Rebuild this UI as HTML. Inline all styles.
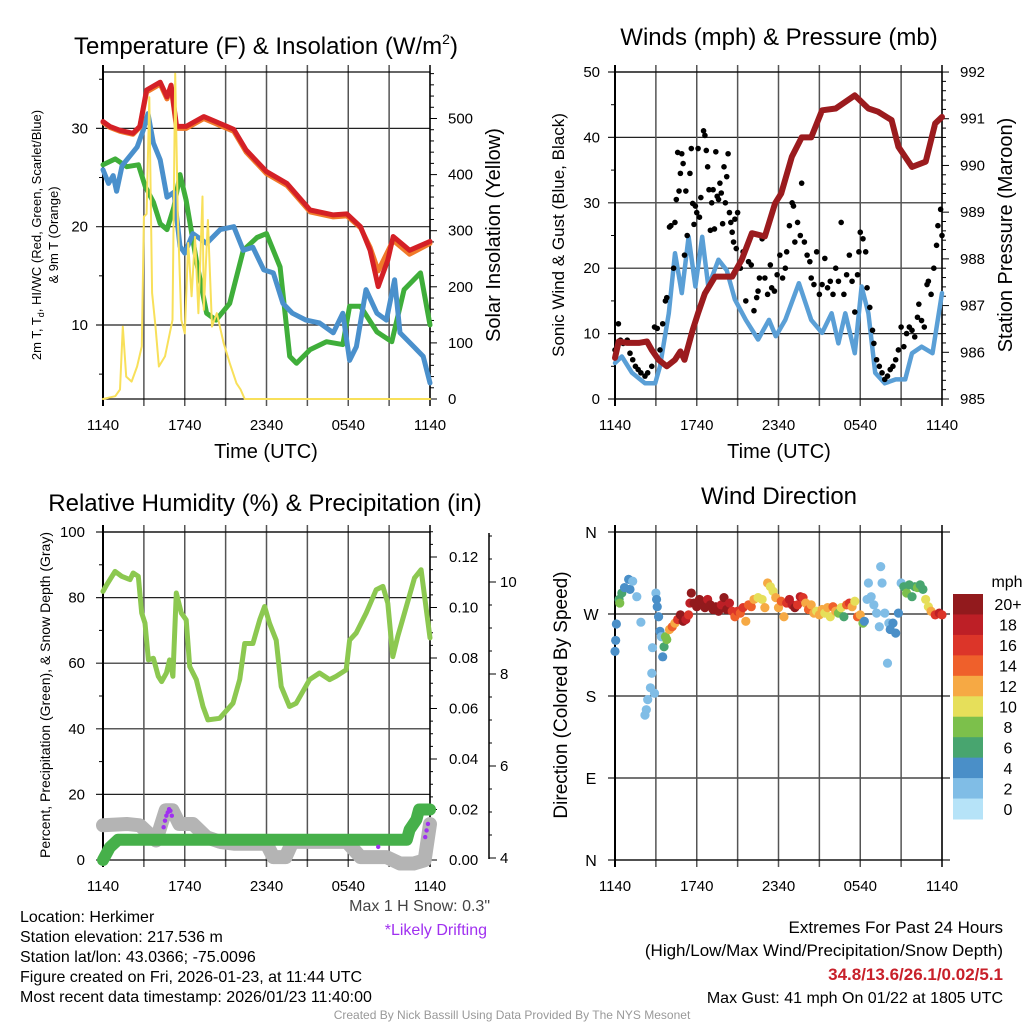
<!DOCTYPE html>
<html><head><meta charset="utf-8">
<style>
html,body{margin:0;padding:0;background:#fff;}
svg{display:block;font-family:"Liberation Sans",Arial,sans-serif;}
</style></head>
<body>
<svg id="chart" width="1024" height="1024" viewBox="0 0 1024 1024" xmlns="http://www.w3.org/2000/svg">
<rect width="1024" height="1024" fill="#fff"/>
<g id="g1"></g>
<g id="g2"></g>
<g id="g3"></g>
<g id="g4"></g>
<g id="g5">
<text x="20" y="922" font-size="16">Location: Herkimer</text>
<text x="20" y="942" font-size="16">Station elevation: 217.536 m</text>
<text x="20" y="962" font-size="16">Station lat/lon: 43.0366; -75.0096</text>
<text x="20" y="982" font-size="16">Figure created on Fri, 2026-01-23, at 11:44 UTC</text>
<text x="20" y="1002" font-size="16">Most recent data timestamp: 2026/01/23 11:40:00</text>
<text x="490" y="911" font-size="16" fill="#444" text-anchor="end">Max 1 H Snow: 0.3"</text>
<text x="487" y="935" font-size="16" fill="#a030f0" text-anchor="end">*Likely Drifting</text>
<text x="1003" y="933" font-size="17" text-anchor="end">Extremes For Past 24 Hours</text>
<text x="1003" y="956" font-size="17" text-anchor="end">(High/Low/Max Wind/Precipitation/Snow Depth)</text>
<text x="1003" y="980" font-size="17" font-weight="bold" fill="#c8202a" text-anchor="end">34.8/13.6/26.1/0.02/5.1</text>
<text x="1003" y="1003" font-size="16" text-anchor="end">Max Gust: 41 mph On 01/22 at 1805 UTC</text>
<text x="512" y="1019" font-size="12" fill="#999" text-anchor="middle">Created By Nick Bassill Using Data Provided By The NYS Mesonet</text>
</g>
</svg>
<script>
// ---------- data ----------
const xTickLabels = ["1140","1740","2340","0540","1140"];
// Panel 1: temperature (F) vs hours since 1140 UTC
const redT = [0,0.5,1.25,2.2,2.7,3.2,4.2,4.7,5.0,5.4,6.1,7.4,9.1,9.6,10.5,12,13.5,15.2,16.9,17.9,18.9,19.6,20.2,20.9,21.3,22.5,24];
const redV = [30.7,30.2,29.8,29.5,30.2,33.9,34.7,33.2,34.4,30.2,30.2,31.2,30.2,29.9,27.8,25.6,24.4,21.7,21.2,21.3,20,17.6,13.9,16.6,19,17.6,18.5];
const orangeV = [30.6,30.1,29.7,29.4,30.1,33.7,34.5,33.0,34.2,30.0,30.0,31.0,30.0,29.7,27.6,25.4,24.2,21.5,21.0,21.1,19.9,17.9,15.5,17.5,18.6,17.2,18.3];
const greenT = [0,0.9,1.75,2.6,3.1,3.7,4.2,4.7,5.2,5.65,6.1,6.85,7.6,8.3,9.3,10.3,11.3,12,13,13.7,14.2,15.2,16.4,17.6,18.1,18.9,20.1,21.2,22.1,23.3,24];
const greenV = [26.3,26.9,26.1,26.3,24.1,22.5,20.3,19.7,22,25.3,22.7,16.6,11.2,10.5,12.2,17.6,18.9,19.3,15.9,6.8,6.1,7.5,8.3,8,11.9,11.9,9.3,8.3,13.6,15.3,10];
const blueT = [0,0.4,0.75,1.0,1.4,1.75,2.5,2.95,3.3,3.7,4.2,4.7,5.2,5.65,6.0,6.6,7.6,8.6,9.6,10.3,11.0,11.8,12.5,13.2,13.9,14.9,15.9,16.9,17.6,18.1,18.6,19.3,20.1,20.8,21.4,21.8,22.8,23.5,24];
const blueV = [25.8,24.4,25.2,23.6,26.2,26.8,28.1,29.8,31.5,28.5,26.8,23,23.5,18,17.3,19.3,18.3,19.7,20,17.6,17.9,15.6,15.3,12.2,11.2,10.5,10.2,9.2,11.2,6.4,7.8,13.6,11.2,10.5,14.6,9.2,7.8,6.8,4.1];
const solarT = [0,0.9,1.25,1.45,1.7,2.1,2.5,2.85,3.0,3.2,3.4,3.6,3.85,4.1,4.55,5.1,5.3,5.5,5.75,6.0,6.25,6.5,6.75,7.0,7.3,7.4,7.7,8.0,8.35,8.85,9.3,9.8,10.1,10.4,24];
const solarV = [0,5,17,129,40,31,58,94,325,330,538,189,129,58,76,141,580,319,141,117,278,183,289,153,361,159,319,129,153,100,64,28,17,0,0];
// Panel 2: winds (mph) & pressure (mb)
const pressT = [0,0.27,0.9,1.75,2.35,2.7,3.2,3.8,4.4,4.8,5.1,5.7,6.1,6.6,7.35,8.6,9.3,10.05,11.0,11.75,12.2,12.98,13.7,14.4,15.2,16.2,17.6,18.6,19.3,20.3,20.8,21.8,22.8,23.5,24];
const pressV = [985.88,986.23,986.2,986.2,986.23,986.05,985.84,985.7,985.84,986.02,985.84,986.48,986.84,987.26,987.62,987.62,987.98,988.55,988.48,989.19,989.4,990.19,990.6,990.6,991.18,991.22,991.5,991.22,991.15,990.97,990.4,989.97,990.08,990.9,991.04];
const windT = [0,0.5,1.25,2.2,2.95,3.3,3.95,4.4,4.9,5.4,5.9,6.4,6.85,7.6,8.2,8.8,9.6,10.5,11.3,11.8,12.5,13.5,14.4,15.2,15.9,16.4,16.9,17.6,18.1,18.6,19.1,19.8,20.6,21.3,21.8,22.5,23.3,24];
const windV = [5.5,6.5,4,2.4,2.4,5,13.1,22.3,16.2,24.8,17.2,24.8,17.2,21.3,19.7,15.2,12.1,9.1,12.1,9.6,12.1,17.7,12.1,10.1,13.1,8.5,13.1,7,17.2,13.1,4,2.4,3,3,7,8,7,16.2];
const gustT = [0,0.25,0.4,0.6,0.9,1.1,1.3,1.5,1.7,1.9,2.2,2.4,2.7,2.9,3.1,3.3,3.5,3.7,3.8,4,4.1,4.3,4.4,4.5,4.6,4.7,4.8,4.9,5,5.1,5.2,5.3,5.5,5.6,5.7,5.8,5.9,6,6.1,6.2,6.3,6.5,6.6,6.7,6.8,6.9,7,7.1,7.2,7.3,7.4,7.5,7.6,7.7,7.8,7.9,8,8.1,8.2,8.3,8.4,8.5,8.6,8.7,8.8,8.9,9,9.2,9.4,9.6,9.8,10,10.2,10.4,10.5,10.6,10.8,11,11.2,11.4,11.5,11.7,11.9,12.1,12.3,12.5,12.6,12.8,12.9,13,13.1,13.2,13.4,13.6,13.7,13.9,14.1,14.3,14.4,14.6,14.8,15,15.2,15.4,15.6,15.8,16,16.2,16.4,16.6,16.8,17,17.2,17.4,17.6,17.8,17.9,18,18.2,18.4,18.5,18.7,18.9,19,19.2,19.4,19.6,19.8,20,20.2,20.4,20.6,20.8,21,21.2,21.4,21.6,21.8,22,22.2,22.3,22.5,22.7,22.9,23,23.2,23.4,23.6,23.7,23.9,24];
const gustV = [7.5,11.5,9,8.5,9,7,6,5,4.5,4,3.5,4,5,11,10.8,7.5,11.5,15,15.5,26.3,26.5,20,27,30.5,37.7,31.8,34.5,37.5,36,22,31.8,25,34.5,38.3,29.9,26.7,29.5,28.5,38.3,27.8,30.8,41,40.3,38,35.5,32,25.8,30,32,26,37.8,31,30.5,33,31.5,26.8,35.5,30,34,37.5,28.5,27,25.5,24,27.5,23,28.5,20,22.5,15,21,20.5,13.5,15.5,16.5,18.5,24.5,18.5,16,20.5,17,16.5,19,22,18.5,20,22.5,26.5,36.5,30,29.5,24,27,25,33,24,22,21,18.5,17.5,22.5,16,17.5,21.5,17,18,16,20,18,27,16,19,22,18,13.3,19,22.5,25.5,24.5,22.5,17,14,10.5,8.5,6,5,4,3,3.5,4.5,5,6,7.5,11,8,10,11,10.5,9.5,12.5,14.5,12,11,17.5,18,16,20,23.5,26.5,29,25];
// Panel 3: RH (%), precip (in), snow depth (in)
const rhT = [0,0.27,0.88,1.37,1.98,2.22,2.59,2.84,3.08,3.33,3.7,4.06,4.3,4.65,4.89,5.13,5.38,5.75,6.11,6.36,6.85,7.34,7.7,8.56,9.54,10.03,10.4,11.0,11.5,11.86,12.22,12.71,13.08,13.69,14.18,15.16,15.89,16.63,17.11,17.85,18.1,18.58,19.32,20.05,20.54,20.9,21.27,21.64,22.13,22.86,23.35,24];
const rhV = [81.9,83.9,88,86.5,85.5,87.5,86.5,75.3,72.2,61,61.5,56,54.4,57,61,56,81.4,75.3,73.2,59,55,46.8,42.7,43.2,47.8,55,66,66,73.2,77.3,72.2,67,52.9,46.8,47.8,55,57,55,56,58,67,69.2,75.3,82.4,83.4,78.3,62,68.2,75.3,86,88.5,67.7];
const snowT = [0,1.75,2.7,3.9,4.6,5.1,5.6,6.6,7.6,8.6,9.6,12.0,12.5,13.4,13.9,17.9,18.9,20.8,21.8,22.8,23.6,24];
const snowV = [4.71,4.74,4.71,4.38,5.04,5.04,4.74,4.74,4.45,4.35,4.31,4.31,4.02,4.02,4.35,4.35,4.02,4.02,3.88,3.88,3.95,4.74];
const precipT = [0,0.3,0.5,1.1,22.3,22.5,23.0,23.2,24];
const precipV = [0,0.003,0.005,0.008,0.008,0.012,0.016,0.02,0.02];
const driftT = [4.45,4.55,4.65,4.75,4.85,4.95,5.05,20.2,23.65,23.75,23.85];
const driftV = [10,12,13.5,14.5,15.5,15,13.5,4,7,9,11];
// Panel 4: wind direction (deg) & speed (mph)
const dirT = [0,0.05,0.1,0.3,0.35,0.5,0.7,1,1.1,1.3,1.6,1.9,2.2,2.3,2.4,2.6,2.7,2.75,2.9,3,3.05,3.1,3.2,3.3,3.4,3.5,3.6,3.7,3.8,4,4.2,4.4,4.6,4.8,5,5.2,5.4,5.5,5.6,5.8,6,6.2,6.4,6.6,6.8,7,7.2,7.4,7.6,7.8,8,8.2,8.4,8.6,8.8,9,9.2,9.4,9.6,9.8,10,10.2,10.5,10.8,11,11.2,11.4,11.6,11.8,12,12.2,12.4,12.6,12.8,13,13.2,13.4,13.6,13.8,14,14.2,14.4,14.6,14.8,15,15.2,15.4,15.6,15.8,16,16.2,16.4,16.6,16.8,17,17.2,17.4,17.6,17.8,18,18.2,18.3,18.5,18.6,18.8,19,19.2,19.4,19.5,19.6,19.8,20,20.1,20.2,20.4,20.6,20.8,21,21.2,21.4,21.6,21.8,22,22.2,22.4,22.6,22.8,23,23.2,23.5,23.8,24];
const dirV = [229,241,259,286,282,293,299,308,297,306,289,261,159,165,176,189,205,233,183,293,286,278,267,251,245,223,234,245,242,253,256,260,264,269,262,264,269,282,293,282,278,286,282,277,286,280,275,278,273,280,288,275,282,273,267,273,271,277,262,280,278,286,288,286,277,304,300,295,288,277,284,267,282,286,280,277,280,289,288,282,275,280,271,273,269,275,271,277,267,278,273,271,277,267,280,282,278,284,267,269,260,262,286,304,289,280,271,256,322,304,271,216,260,253,260,249,271,304,300,293,302,289,300,299,302,297,286,278,273,269,271,269];
const spdV = [4,4,4,6,8,6,4,4,4,3,2,2,2,2,2,2,2,2,2,3,4,4,4,4,3,4,6,8,8,13,14,12,16,20,20,18,16,18,20,20,20,20,20,20,18,20,20,20,20,18,20,20,18,16,14,16,14,16,12,14,14,12,10,10,12,12,10,10,12,12,14,12,16,18,18,20,16,18,16,12,14,12,12,10,12,12,10,12,10,14,12,8,10,6,14,16,12,10,14,13,8,4,2,2,2,2,2,2,2,2,2,2,2,4,4,4,4,2,6,8,6,6,6,8,6,6,10,10,12,16,18,16];
const cbLabels = ["20+","18","16","14","12","10","8","6","4","2","0"];
const cbColors = ["#921a1d","#bd1f26","#dc3529","#ef602b","#f6a944","#e6df5a","#7cc04b","#48a56f","#4a8fc8","#80bde6","#b6e3f8"];

// ---------- helpers ----------
const NS="http://www.w3.org/2000/svg";
function mk(parent, tag, attrs, txt){
  const e=document.createElementNS(NS,tag);
  for(const k in attrs) e.setAttribute(k,attrs[k]);
  if(txt!==undefined) e.textContent=txt;
  parent.appendChild(e); return e;
}
function pathD(ts,vs,fx,fy){return ts.map((t,i)=>(i?"L":"M")+fx(t).toFixed(1)+","+fy(vs[i]).toFixed(1)).join("");}

function frame(g,X0,X1,Y0,Y1,name){
  const xs=h=>X0+h*(X1-X0)/24;
  for(let i=0;i<=8;i++){
    const x=xs(i*3);
    const l=mk(g,"line",{x1:x,y1:Y0-7,x2:x,y2:Y1+7,stroke:i==0||i==8?"#000":"#555","stroke-width":i==0?2:1.5});
    
    
  }
  xTickLabels.forEach((s,i)=>{
    const t=mk(g,"text",{x:xs(i*6),y:Y1+31,"font-size":15,"text-anchor":"middle"},s);
    
    
  });
  const r=mk(g,"rect",{x:X0,y:Y0,width:X1-X0,height:Y1-Y0,fill:"none",stroke:"#000","stroke-width":1.2});
  
  
  return xs;
}
function hgrid(g,X0,X1,y,lab,lx){
  const l=mk(g,"line",{x1:X0-7,y1:y,x2:X1,y2:y,stroke:"#222","stroke-width":1.2});
  
  
  if(lab!==null){
    const t=mk(g,"text",{x:lx,y:y+5,"font-size":15,"text-anchor":"end"},lab);
    
    
  }
}
function rtick(g,x,y,len,lab,lx){
  const l=mk(g,"line",{x1:x,y1:y,x2:x+len,y2:y,stroke:"#000","stroke-width":1});
  
  
  if(lab!==null){
    const t=mk(g,"text",{x:lx,y:y+5,"font-size":15},lab);
    
    
  }
}
function title(g,x,y,s,size,name,rot){
  const a={x:x,y:y,"font-size":size,"text-anchor":"middle"};
  if(rot) a.transform="rotate(-90 "+x+" "+y+")";
  const t=mk(g,"text",a,s);
  
  
  return t;
}
function line(g,ts,vs,fx,fy,color,w,name){
  const p=mk(g,"path",{d:pathD(ts,vs,fx,fy),fill:"none",stroke:color,"stroke-width":w,"stroke-linejoin":"round","stroke-linecap":"round"});
  
  
}

// ---------- panel 1 ----------
(function(){
  const g=document.getElementById("g1");
  const X0=103,X1=430,Y0=72,Y1=399;
  const yL=v=>Y1-(v-2.47)*9.83, yR=v=>Y1-v*0.561;
  [10,20,30].forEach(v=>hgrid(g,X0,X1,yL(v),String(v),88));
  [5,15,25,35].forEach(v=>{const l=mk(g,"line",{x1:X0-4,y1:yL(v),x2:X0,y2:yL(v),stroke:"#000"});});
  for(let v=0;v<=580;v+=20) rtick(g,X1,yR(v),v%100==0?7:4,v%100==0?String(v):null,448);
  const xs=frame(g,X0,X1,Y0,Y1,"temperature");
  line(g,greenT,greenV,xs,yL,"#3fae3a",5,"dewpoint-line");
  line(g,blueT,blueV,xs,yL,"#4a90cc",5,"windchill-line");
  line(g,redT,orangeV,xs,yL,"#f07a2a",5,"temp-9m-line");
  line(g,redT,redV,xs,yL,"#d42026",5,"temp-2m-line");
  line(g,solarT,solarV,xs,yR,"#f8e05a",2,"solar-insolation-line");
  const t=title(g,266,54,"Temperature (F) & Insolation (W/m",24,"temperature-title");
  mk(t,"tspan",{dy:-10,"font-size":14},"2"); mk(t,"tspan",{dy:10},")");
  title(g,266,458,"Time (UTC)",20,"x-axis-title");
  title(g,500,235,"Solar Insolation (Yellow)",20,"right-axis-title",true);
  title(g,41,235,"2m T, T",13,"left-axis-title",true);
  const lt=g.lastChild; lt.textContent="";
  mk(lt,"tspan",{},"2m T, T"); mk(lt,"tspan",{dy:3,"font-size":9},"d"); mk(lt,"tspan",{dy:-3},", HI/WC (Red, Green, Scarlet/Blue)");
  title(g,58,235,"& 9m T (Orange)",13,"left-axis-title-line2",true);
})();

// ---------- panel 2 ----------
(function(){
  const g=document.getElementById("g2");
  const X0=615,X1=942,Y0=72,Y1=399;
  const yW=v=>Y1-v*6.54, yP=p=>Y1-(p-985)*46.71;
  [0,10,20,30,40,50].forEach(v=>hgrid(g,X0,X1,yW(v),String(v),600));
  [5,15,25,35,45].forEach(v=>{const l=mk(g,"line",{x1:X0-4,y1:yW(v),x2:X0,y2:yW(v),stroke:"#000"});});
  for(let k=0;k<=35;k++){const p=985+k*0.2;rtick(g,X1,yP(p),k%5==0?7:4,k%5==0?String(985+k/5):null,960);}
  const xs=frame(g,X0,X1,Y0,Y1,"wind");
  line(g,windT,windV,xs,yW,"#5a9fd6",4.5,"sonic-wind-line");
  gustT.forEach((t,i)=>{
    const c=mk(g,"circle",{cx:xs(t),cy:yW(gustV[i]),r:2.8,fill:"#000"});
    
    
  });
  line(g,pressT,pressV,xs,yP,"#9b1b1e",6,"pressure-line");
  title(g,779,45,"Winds (mph) & Pressure (mb)",24,"wind-title");
  title(g,779,458,"Time (UTC)",20,"x-axis-title");
  title(g,1012,235,"Station Pressure (Maroon)",20,"right-axis-title",true);
  title(g,564,235,"Sonic Wind & Gust (Blue, Black)",17,"left-axis-title",true);
})();

// ---------- panel 3 ----------
(function(){
  const g=document.getElementById("g3");
  const X0=103,X1=430,Y0=532,Y1=860;
  const y=v=>Y1-v*3.28, yPr=v=>Y1-v*2525, yS=s=>858-(s-4)*46;
  [20,40,60,80,100].forEach(v=>hgrid(g,X0,X1,y(v),String(v),85));
  hgrid(g,X0,X0,y(0),"0",85);
  [10,30,50,70,90].forEach(v=>{const l=mk(g,"line",{x1:X0-4,y1:y(v),x2:X0,y2:y(v),stroke:"#000"});});
  for(let k=0;k<=26;k++){const v=k*0.005;rtick(g,X1,yPr(v),k%4==0?7:3,k%4==0?v.toFixed(2):null,449);}
  const ax=mk(g,"line",{x1:489,y1:533,x2:489,y2:859,stroke:"#000","stroke-width":1.5});
  
  
  for(let k=0;k<=14;k++){const s=4+k*0.5;if(yS(s)<533)break;rtick(g,489,yS(s),k%4==0?7:3,k%4==0?String(s):null,500);}
  const xs=frame(g,X0,X1,Y0,Y1,"humidity");
  line(g,snowT,snowV,xs,yS,"#b4b4b4",14,"snow-depth-line");
  line(g,precipT,precipV,xs,yPr,"#46b04a",12,"precip-line");
  line(g,rhT,rhV,xs,y,"#8cc850",5,"humidity-line");
  driftT.forEach((t,i)=>{
    const c=mk(g,"circle",{cx:xs(t),cy:y(driftV[i]),r:2.2,fill:"#a030f0"});
    
    
  });
  title(g,265,511,"Relative Humidity (%) & Precipitation (in)",24,"humidity-title");
  title(g,50,695,"Percent, Precipitation (Green), & Snow Depth (Gray)",14,"left-axis-title",true);
})();

// ---------- panel 4 ----------
(function(){
  const g=document.getElementById("g4");
  const X0=615,X1=942,Y0=532,Y1=860;
  const y=d=>Y1-d*(Y1-Y0)/360;
  const dl=["N","E","S","W","N"];
  [0,90,180,270,360].forEach((d,i)=>{
    const l=mk(g,"line",{x1:X0-7,y1:y(d),x2:X1+8,y2:y(d),stroke:"#222","stroke-width":1.2});
    
    
    const t=mk(g,"text",{x:591,y:y(d)+6,"font-size":16,"text-anchor":"middle"},dl[i]);
    
    
  });
  const xs=frame(g,X0,X1,Y0,Y1,"direction");
  dirT.forEach((t,i)=>{
    const idx=Math.min(10,Math.floor(spdV[i]/2));
    const c=mk(g,"circle",{cx:xs(t),cy:y(dirV[i]),r:4.6,fill:cbColors[10-idx]});
    
    
  });
  const bh=(819-594)/11;
  cbLabels.forEach((s,i)=>{
    const r=mk(g,"rect",{x:953,y:594+i*bh,width:30,height:bh+0.5,fill:cbColors[i]});
    
    
    const t=mk(g,"text",{x:1008,y:594+i*bh+bh/2+6,"font-size":16,"text-anchor":"middle"},s);
    
    
  });
  title(g,1007,587,"mph",16,"colorbar-title");
  title(g,779,504,"Wind Direction",24,"direction-title");
  title(g,567,695,"Direction (Colored By Speed)",19,"left-axis-title",true);
})();
</script>
</body></html>
